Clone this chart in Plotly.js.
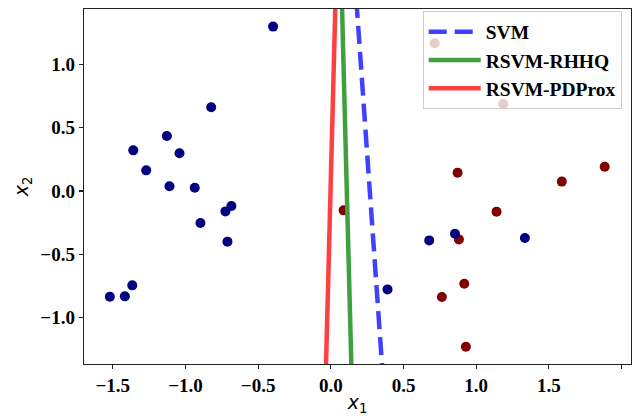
<!DOCTYPE html>
<html>
<head>
<meta charset="utf-8">
<script src="https://cdn.plot.ly/plotly-3.0.1.min.js"></script>
<style>html,body{margin:0;padding:0;background:#fff;}#chart{width:632px;height:416px;}</style>
</head>
<body>
<div id="chart"></div>
<script>
// Class -1 (navy) points
var blueX = [-0.397,-0.823,-1.128,-1.359,-1.041,-1.270,-1.110,-0.936,-0.684,-0.725,-0.897,-0.711,-1.366,-1.417,-1.520,0.677,0.854,1.335,0.390];
var blueY = [1.298,0.661,0.434,0.321,0.298,0.163,0.037,0.026,-0.118,-0.161,-0.253,-0.400,-0.745,-0.832,-0.835,-0.390,-0.337,-0.371,-0.777];
// Class +1 (dark red) points
var redX = [0.714,1.186,0.872,1.589,1.884,0.088,1.140,0.881,0.918,0.764,0.929];
var redY = [1.166,0.687,0.145,0.074,0.192,-0.153,-0.163,-0.382,-0.732,-0.837,-1.230];
// Decision boundaries (x at the given y values)
var lineY = [-1.5, 1.5];
var svmX = [0.360, 0.176];
var rhhqX = [0.144, 0.076];
var pdproxX = [-0.036, 0.032];
var seriesNames = ['SVM', 'RSVM-RHHQ', 'RSVM-PDProx'];
var xTicks = [-1.5,-1.0,-0.5,0.0,0.5,1.0,1.5,2.0];
var xTickLabels = ['\u22121.5','\u22121.0','\u22120.5','0.0','0.5','1.0','1.5','2.0'];
var yTicks = [-1.0,-0.5,0.0,0.5,1.0];
var yTickLabels = ['\u22121.0','\u22120.5','0.0','0.5','1.0'];

function bold(a){ return a.map(function(s){ return '<b>' + s + '</b>'; }); }

var traces = [
  {x: redX, y: redY, mode: 'markers', type: 'scatter', showlegend: false,
   marker: {color: '#800000', size: 10, line: {width: 0}}},
  {x: blueX, y: blueY, mode: 'markers', type: 'scatter', showlegend: false,
   marker: {color: '#000080', size: 10, line: {width: 0}}},
  {x: svmX, y: lineY, mode: 'lines', type: 'scatter', name: '<b>' + seriesNames[0] + '</b>',
   line: {color: 'rgb(64,64,255)', width: 4.5, dash: '18px,8px'}},
  {x: rhhqX, y: lineY, mode: 'lines', type: 'scatter', name: '<b>' + seriesNames[1] + '</b>',
   line: {color: 'rgb(64,160,64)', width: 4.5}},
  {x: pdproxX, y: lineY, mode: 'lines', type: 'scatter', name: '<b>' + seriesNames[2] + '</b>',
   line: {color: 'rgb(255,64,64)', width: 4.5}}
];

var serif = 'Liberation Serif, Times New Roman, serif';
var layout = {
  width: 632, height: 416,
  margin: {l: 83.5, r: 1, t: 9, b: 52},
  paper_bgcolor: '#fff', plot_bgcolor: '#fff',
  showlegend: true,
  legend: {x: 0.983, y: 0.993, xanchor: 'right', yanchor: 'top', itemwidth: 52,
    bgcolor: 'rgba(255,255,255,0.8)', bordercolor: '#cccccc', borderwidth: 1,
    font: {family: serif, size: 19.5, color: '#000'}},
  xaxis: {range: [-1.698, 2.065], tickvals: xTicks, ticktext: bold(xTickLabels),
    showgrid: false, zeroline: false, showline: true, mirror: true,
    linecolor: '#222', linewidth: 1.3, ticks: 'outside', ticklen: 4, tickwidth: 1.2, tickcolor: '#222',
    tickfont: {family: serif, size: 19, color: '#000'},
    title: {text: '<i>x</i><sub>1</sub>', font: {family: 'DejaVu Sans', size: 19, color: '#000'}, standoff: 2}},
  yaxis: {range: [-1.366, 1.437], tickvals: yTicks, ticktext: bold(yTickLabels),
    showgrid: false, zeroline: false, showline: true, mirror: true,
    linecolor: '#222', linewidth: 1.3, ticks: 'outside', ticklen: 4, tickwidth: 1.2, tickcolor: '#222',
    tickfont: {family: serif, size: 19, color: '#000'},
    title: {text: '<i>x</i><sub>2</sub>', font: {family: 'DejaVu Sans', size: 19, color: '#000'}, standoff: 6}}
};
Plotly.newPlot('chart', traces, layout, {displayModeBar: false, staticPlot: true});
</script>
</body>
</html>
